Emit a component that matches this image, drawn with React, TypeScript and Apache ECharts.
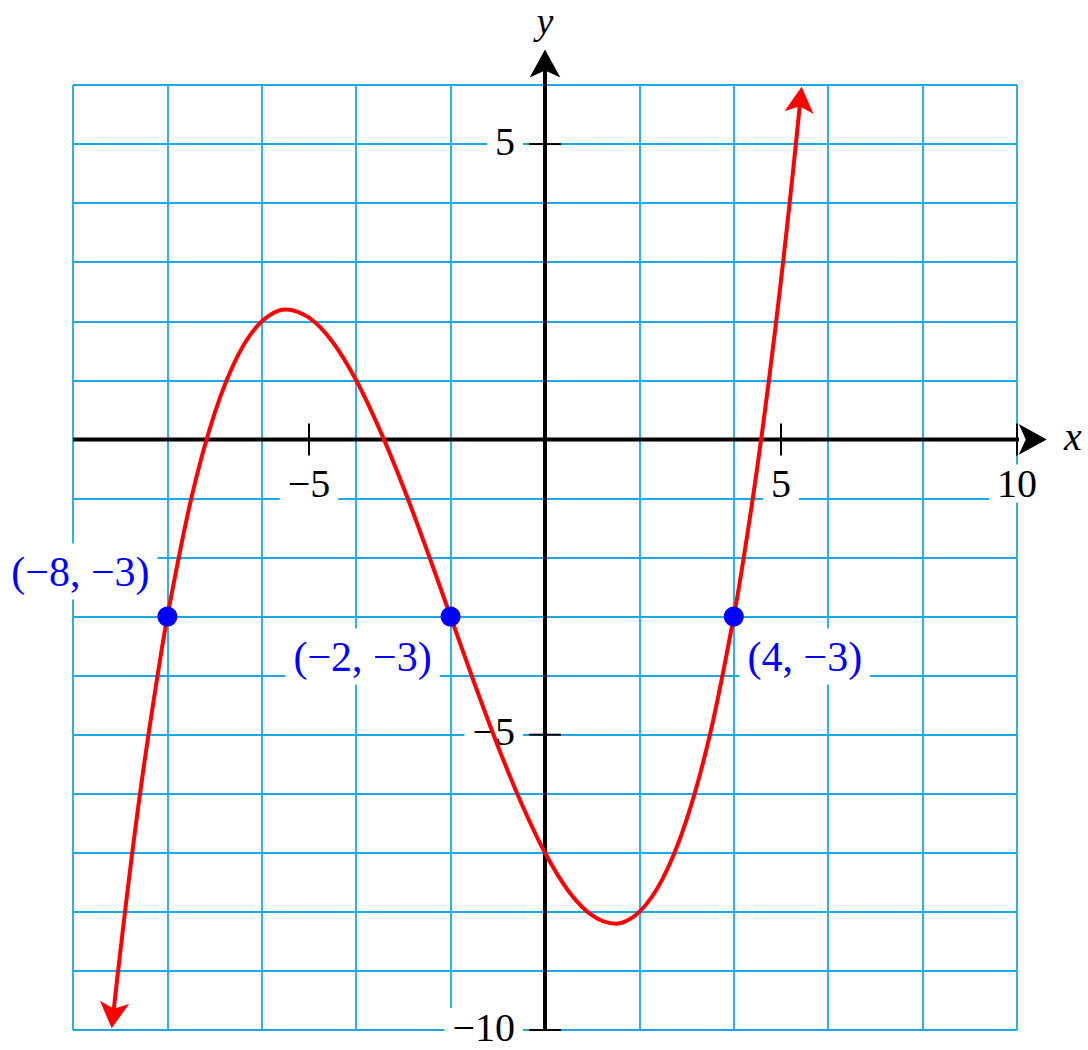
import React, { useEffect, useRef } from 'react';
import * as echarts from 'echarts';

// Curve samples (x, y)
const curveX = [-9.15, -9, -8.75, -8.5, -8.25, -8, -7.5, -7, -6.5, -6, -5.5, -5, -4.5, -4, -3.5, -3, -2.5, -2, -1.5, -1, -0.5, 0, 0.5, 1, 1.5, 2, 2.5, 3, 3.5, 4, 4.25, 4.5, 4.75, 5, 5.25, 5.41];
const curveY = [-9.75, -8.69, -7.03, -5.54, -4.21, -3, -1.02, 0.44, 1.43, 2.0, 2.2, 2.06, 1.65, 1.0, 0.16, -0.81, -1.88, -3, -4.12, -5.19, -6.16, -7, -7.65, -8.06, -8.2, -8, -7.43, -6.44, -4.98, -3, -1.8, -0.46, 1.04, 2.69, 4.5, 5.75];
// Arrow tips at both ends of the curve
const curveTips = [[-9.18, -9.97], [5.437, 5.97]];

// Marked points
const pointsX = [-8, -2, 4];
const pointsY = [-3, -3, -3];
const pointLabels = ['(\u22128, \u22123)', '(\u22122, \u22123)', '(4, \u22123)'];

// Axis ranges and tick labels
const xRange = [-10, 10];
const yRange = [-10, 6];
const xTickValues = [-5, 5, 10];
const yTickValues = [5, -5, -10];
const xAxisLineEnds = [-10, 10.38];
const yAxisLineEnds = [-10, 6.4];
const axisTips = [10.63, 6.6];
const axisNames = ['x', 'y'];

// styling
const GRID_BLUE = '#1aa8e6';
const FONT = '"Liberation Serif", "DejaVu Serif", serif';
const curveArrowRotate = [173.8, -5.7];
const pointLabelOffsets = [[-87, -45], [-88, 40], [71, 40]];

const fmt = (v: number) => (v < 0 ? '\u2212' + Math.abs(v) : String(v));

export default function App() {
  const ref = useRef<HTMLDivElement>(null);
  useEffect(() => {
    if (!ref.current) return;
    const chart = echarts.init(ref.current, null, { renderer: 'svg' });
    const curveData = curveX.map((x, i) => [x, curveY[i]]);
    const option: any = {
      animation: false,
      backgroundColor: '#fff',
      grid: { left: 73, right: 71, top: 85, bottom: 20, containLabel: false, outerBoundsMode: 'none' },
      xAxis: {
        type: 'value', min: xRange[0], max: xRange[1], interval: 2,
        axisLine: { show: false, onZero: false }, axisTick: { show: false }, axisLabel: { show: false },
        splitLine: { show: true, lineStyle: { color: GRID_BLUE, width: 1.8 } }, z: 0,
      },
      yAxis: {
        type: 'value', min: yRange[0], max: yRange[1], interval: 1,
        axisLine: { show: false, onZero: false }, axisTick: { show: false }, axisLabel: { show: false },
        splitLine: { show: true, lineStyle: { color: GRID_BLUE, width: 1.8 } }, z: 0,
      },
      series: [
        {
          type: 'custom', name: 'ticks', clip: false, silent: true, z: 3,
          data: [...xTickValues.map((v) => [v, 0, 0]), ...yTickValues.map((v) => [0, v, 1])],
          encode: { x: 0, y: 1 },
          renderItem: (params: any, api: any) => {
            const kind = api.value(2);
            const p = api.coord([api.value(0), api.value(1)]);
            const v = kind === 0 ? api.value(0) : api.value(1);
            const h = 16;
            const vertical = kind === 0;
            return {
              type: 'group',
              children: [
                {
                  type: 'line',
                  shape: vertical
                    ? { x1: p[0], y1: p[1] - h, x2: p[0], y2: p[1] + h }
                    : { x1: p[0] - h, y1: p[1], x2: p[0] + h, y2: p[1] },
                  style: { stroke: '#000', lineWidth: 2 },
                },
                {
                  type: 'text',
                  x: vertical ? p[0] : p[0] - 22,
                  y: vertical ? p[1] + 44 : p[1] - 3,
                  style: {
                    text: fmt(v), fill: '#000', fontSize: 40, fontFamily: FONT,
                    align: vertical ? 'center' : 'right', verticalAlign: 'middle',
                    backgroundColor: '#fff', padding: [3, 8], lineHeight: 32,
                  },
                },
              ],
            };
          },
        },
        {
          type: 'custom', name: 'axis-names', clip: false, silent: true, z: 3,
          data: [[xRange[1], 0, 0], [0, yRange[1], 1]],
          encode: { x: 0, y: 1 },
          renderItem: (params: any, api: any) => {
            const kind = api.value(2);
            const p = api.coord([api.value(0), api.value(1)]);
            return {
              type: 'text',
              x: kind === 0 ? p[0] + 47 : p[0],
              y: kind === 0 ? p[1] - 3 : p[1] - 64,
              style: {
                text: axisNames[kind], fill: '#000', fontSize: kind === 0 ? 40 : 38,
                fontFamily: FONT, fontStyle: 'italic',
                align: kind === 0 ? 'left' : 'center', verticalAlign: 'middle', lineHeight: 24,
              },
            };
          },
        },
        {
          type: 'line', name: 'x-axis',
          data: [[xAxisLineEnds[0], 0], [xAxisLineEnds[1], 0]],
          symbol: 'none', clip: false, silent: true, z: 4,
          lineStyle: { color: '#000', width: 4 },
        },
        {
          type: 'line', name: 'y-axis',
          data: [[0, yAxisLineEnds[0]], [0, yAxisLineEnds[1]]],
          symbol: 'none', clip: false, silent: true, z: 4,
          lineStyle: { color: '#000', width: 4 },
        },
        {
          type: 'scatter', name: 'axis-arrows', clip: false, silent: true, z: 4,
          data: [
            { value: [axisTips[0], 0], symbolRotate: -90 },
            { value: [0, axisTips[1]], symbolRotate: 0 },
          ],
          symbol: 'arrow', symbolSize: [23, 28],
          itemStyle: { color: '#000', opacity: 1 },
        },
        {
          type: 'line', name: 'curve',
          data: curveData, smooth: 0.33, symbol: 'none', silent: true, z: 5, clip: false,
          lineStyle: { color: '#ff0000', width: 4 },
        },
        {
          type: 'scatter', name: 'curve-arrows', clip: false, silent: true, z: 5,
          data: [
            { value: curveTips[0], symbolRotate: curveArrowRotate[0] },
            { value: curveTips[1], symbolRotate: curveArrowRotate[1] },
          ],
          symbol: 'arrow', symbolSize: [22, 26],
          itemStyle: { color: '#ff0000', opacity: 1 },
        },
        {
          type: 'scatter', name: 'points', silent: true, z: 6, symbol: 'circle', symbolSize: 20,
          itemStyle: { color: '#0000ff', opacity: 1 },
          data: pointsX.map((x, i) => ({
            value: [x, pointsY[i]],
            label: { offset: pointLabelOffsets[i] },
          })),
          label: {
            show: true, position: 'inside',
            formatter: (p: any) => pointLabels[p.dataIndex],
            fontFamily: FONT, fontSize: 42, color: '#0000ff',
            backgroundColor: '#fff', padding: [6, 8], lineHeight: 44,
          },
        },
      ],
    };
    chart.setOption(option);
    return () => chart.dispose();
  }, []);
  return (
    <div
      ref={ref}
      style={{ position: 'fixed', left: 0, top: 0, width: 1088, height: 1050, background: '#fff' }}
    />
  );
}
